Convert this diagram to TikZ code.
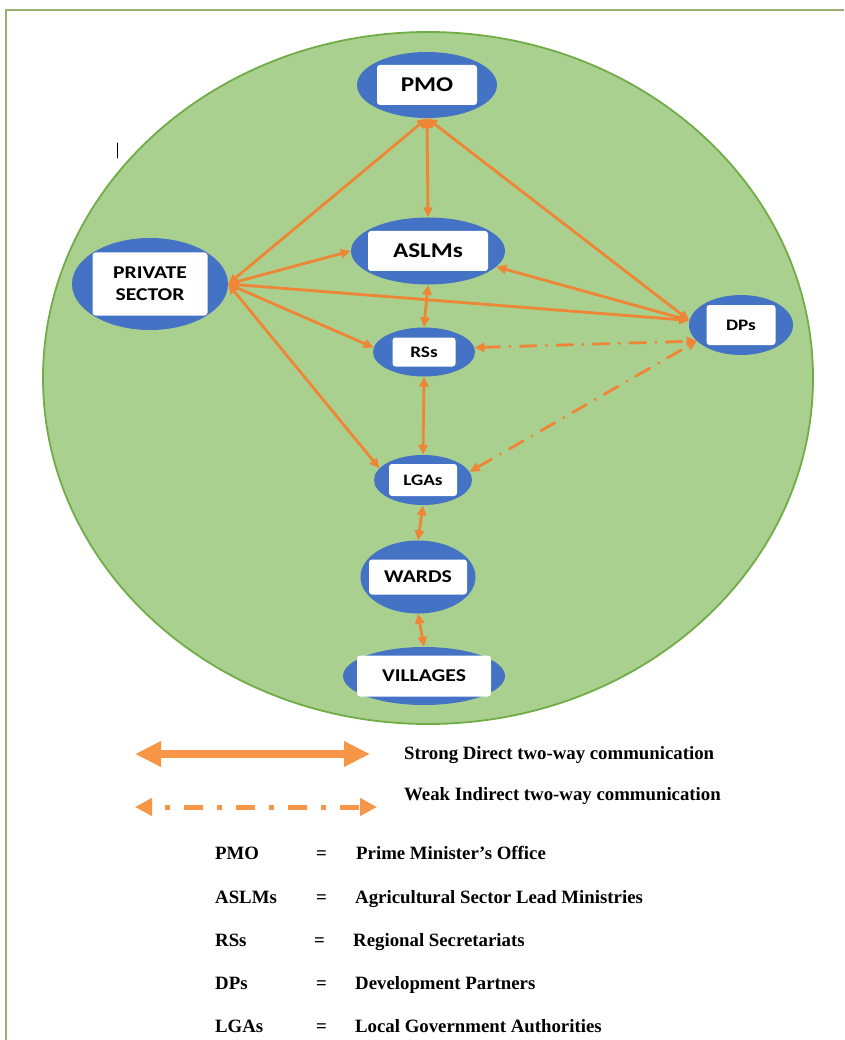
\documentclass[tikz,border=0pt]{standalone}
\usepackage{fontspec}
\setmainfont{Liberation Serif}
\newfontfamily\boxfont{Carlito}[FakeStretch=1.2]
\usetikzlibrary{arrows.meta,shapes.geometric}
\definecolor{aaddww}{RGB}{169,208,142}
\definecolor{qqaatt}{RGB}{112,173,71}
\definecolor{ttqqcc}{RGB}{68,114,196}
\definecolor{ffwwqq}{RGB}{239,133,54}
\definecolor{ffzztt}{RGB}{247,150,70}
\definecolor{zzbbqq}{RGB}{155,175,110}

\begin{document}
\begin{tikzpicture}[line cap=round,line join=round,x=1pt,y=-1pt,
	>={Triangle[length=10pt,width=9pt]},
	blob/.style={ellipse,fill=ttqqcc,inner sep=0pt},
	card/.style={fill=white,rounded corners=3pt,inner sep=0pt,text=black,align=center},
	link/.style={<->,draw=ffwwqq,line width=2.8pt},
	weak/.style={link,dash pattern=on 16pt off 10pt on 0.5pt off 10pt},
	legstrong/.style={{Triangle[length=26pt,width=24pt]}-{Triangle[length=26pt,width=24pt]},draw=ffzztt,line width=8pt,line cap=butt},
	legweak/.style={{Triangle[length=17pt,width=17pt]}-{Triangle[length=17pt,width=17pt]},draw=ffzztt,line width=5pt,line cap=butt,dash pattern=on 19pt off 14pt on 5pt off 14pt,dash phase=19pt},
	legtext/.style={font=\bfseries\fontsize{18.8}{22}\selectfont,inner sep=0pt,anchor=base west}]
	\useasboundingbox (0,0) rectangle (844,1040);
	\draw [zzbbqq,line width=1.5pt,line cap=butt] (844,10) -- (6,10) -- (6,1040);
	\draw [fill=aaddww,draw=qqaatt,line width=1.8pt] (428,378) ellipse (385pt and 346pt);
	\draw [line width=1pt] (117,143) -- (117,158);
	% offices
	\node [blob,minimum width=140pt,minimum height=66pt] (pmo) at (427,85) {};
	\node [card,minimum width=100pt,minimum height=40pt,font=\boxfont\bfseries\fontsize{21}{24}\selectfont] (pmotxt) at (pmo) {PMO};
	\node [blob,minimum width=154pt,minimum height=67pt] (aslm) at (428,251) {};
	\node [card,minimum width=120pt,minimum height=40pt,font=\boxfont\bfseries\fontsize{21}{24}\selectfont] (aslmtxt) at (aslm) {ASLMs};
	\node [blob,minimum width=156pt,minimum height=92pt] (priv) at (150,284) {};
	\node [card,minimum width=115pt,minimum height=63pt,font=\boxfont\bfseries\fontsize{18}{22}\selectfont] (privtxt) at (priv) {PRIVATE\\SECTOR};
	\node [blob,minimum width=104pt,minimum height=60pt] (dps) at (741,325) {};
	\node [card,minimum width=69pt,minimum height=40pt,font=\boxfont\bfseries\fontsize{16}{18}\selectfont] (dpstxt) at (dps) {DPs};
	\node [blob,minimum width=102pt,minimum height=49pt] (rss) at (424,352) {};
	\node [card,minimum width=63pt,minimum height=29pt,font=\boxfont\bfseries\fontsize{16}{18}\selectfont] (rsstxt) at (rss) {RSs};
	\node [blob,minimum width=98pt,minimum height=50pt] (lgas) at (423,480) {};
	\node [card,minimum width=68pt,minimum height=32pt,font=\boxfont\bfseries\fontsize{16}{18}\selectfont] (lgastxt) at (lgas) {LGAs};
	\node [blob,minimum width=115pt,minimum height=73pt] (wards) at (418,577) {};
	\node [card,minimum width=98pt,minimum height=35pt,font=\boxfont\bfseries\fontsize{18}{20}\selectfont] (wardstxt) at (wards) {WARDS};
	\node [blob,minimum width=162pt,minimum height=58pt] (vil) at (424,676) {};
	\node [card,minimum width=134pt,minimum height=41pt,font=\boxfont\bfseries\fontsize{18}{20}\selectfont] (viltxt) at (vil) {VILLAGES};
	% strong links
	\draw [link] (pmo.south) -- (aslm.north);
	\draw [link] (aslm.south) -- (rss.north);
	\draw [link] (rss.south) -- (lgas.north);
	\draw [link] (lgas.south) -- (wards.north);
	\draw [link] (wards.south) -- (vil.north);
	\draw [link] (priv.east) -- (pmo.south);
	\draw [link] (priv.east) -- (aslm.west);
	\draw [link] (priv.east) -- (dps.175);
	\draw [link] (priv.east) -- (rss.175);
	\draw [link] (priv.east) -- (lgas.165);
	\draw [link] (pmo.south) -- (dps.175);
	\draw [link] (aslm.-13) -- (dps.175);
	% weak links
	\draw [weak] (rss.5) -- (dps.200);
	\draw [weak] (lgas.10) -- (dps.200);
	% legend
	\coordinate (s1) at (135,754);
	\coordinate (s2) at (370,754);
	\draw [legstrong] (s1) -- (s2);
	\coordinate (w1) at (135,807);
	\coordinate (w2) at (377,807);
	\draw [legweak] (w1) -- (w2);
	\node [legtext] (strongtxt) at (404,759) {Strong Direct two-way communication};
	\node [legtext] (weaktxt) at (404,800) {Weak Indirect two-way communication};
	\node [legtext] (pmoabbr) at (215,859) {PMO};
	\node [legtext] (pmoeq) at (316,859) {=};
	\node [legtext] (pmodef) at (356,859) {Prime Minister’s Office};
	\node [legtext] (aslmabbr) at (215,903) {ASLMs};
	\node [legtext] (aslmeq) at (316,903) {=};
	\node [legtext] (aslmdef) at (355,903) {Agricultural Sector Lead Ministries};
	\node [legtext] (rssabbr) at (215,946) {RSs};
	\node [legtext] (rsseq) at (314,946) {=};
	\node [legtext] (rssdef) at (353,946) {Regional Secretariats};
	\node [legtext] (dpsabbr) at (215,989) {DPs};
	\node [legtext] (dpseq) at (316,989) {=};
	\node [legtext] (dpsdef) at (355,989) {Development Partners};
	\node [legtext] (lgasabbr) at (215,1032) {LGAs};
	\node [legtext] (lgaseq) at (316,1032) {=};
	\node [legtext] (lgasdef) at (355,1032) {Local Government Authorities};
\end{tikzpicture}
\end{document}
